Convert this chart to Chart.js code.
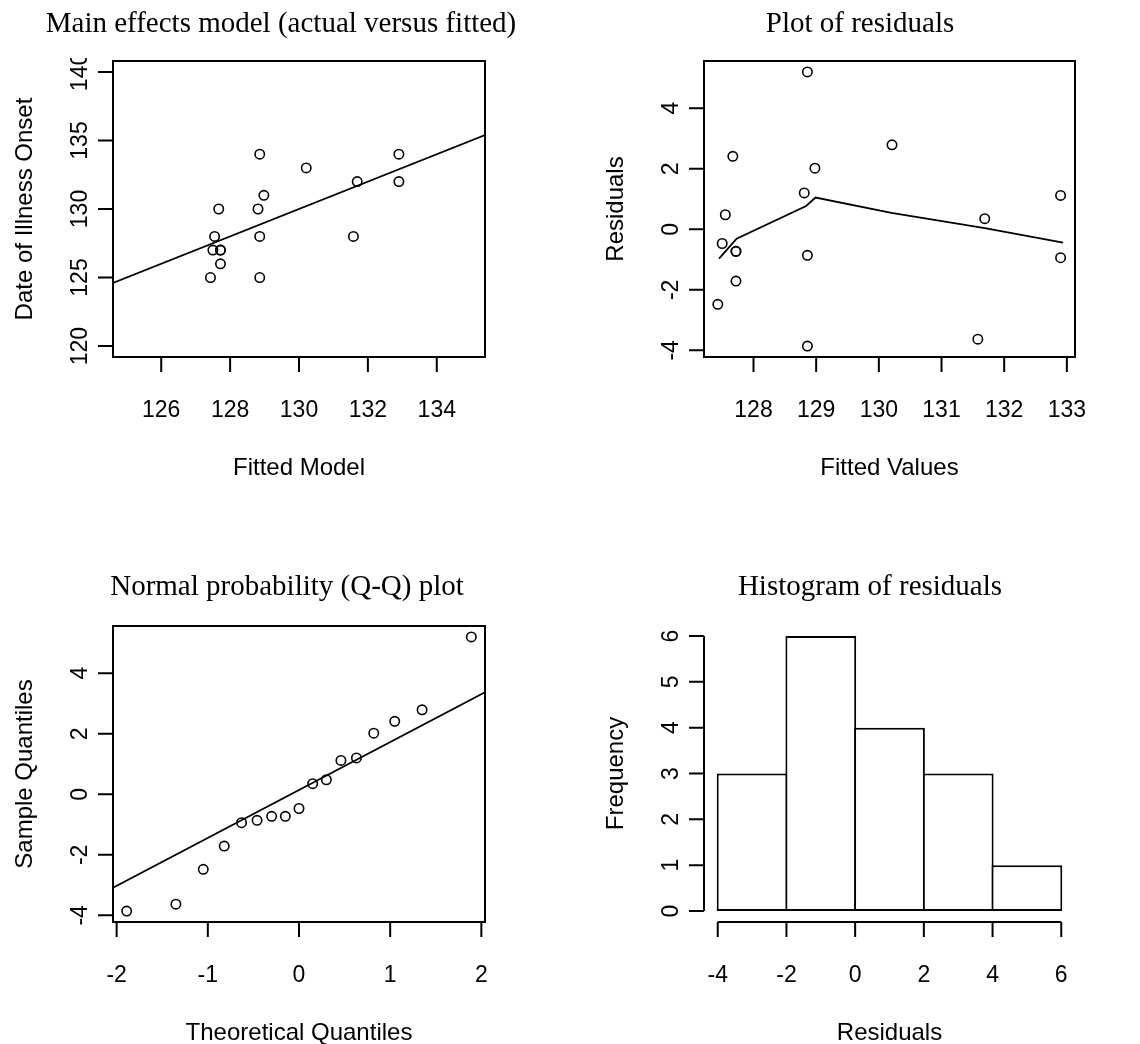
<!DOCTYPE html>
<html lang="en">
<head>
<meta charset="UTF-8">
<title>Main effects model diagnostics</title>
<script src="https://cdn.jsdelivr.net/npm/chart.js"></script>
<style>
  body { margin: 0; background: #fff; }
  #wrap { position: relative; width: 1140px; height: 1044px; }
  .panel { position: absolute; width: 570px; height: 522px; }
</style>
</head>
<body>
<div id="wrap">
  <div class="panel" style="left:0;top:0"><canvas id="fitChart" width="570" height="522"></canvas></div>
  <div class="panel" style="left:570px;top:0"><canvas id="residChart" width="570" height="522"></canvas></div>
  <div class="panel" style="left:0;top:522px"><canvas id="qqChart" width="570" height="522"></canvas></div>
  <div class="panel" style="left:570px;top:522px"><canvas id="histChart" width="570" height="522"></canvas></div>
</div>
<script>
// fitted model value, actual onset date and residual for each case
var fittedValues = [127.43, 127.55, 127.50, 127.72, 127.72, 127.67, 127.72, 128.86, 128.81, 128.86, 128.86, 128.98, 130.21, 131.69, 131.58, 132.90, 132.90];
var onsetDates = [125, 128, 127, 127, 127, 130, 126, 134, 130, 128, 125, 131, 133, 132, 128, 134, 132];
var residuals = [-2.48, 0.48, -0.47, -0.73, -0.73, 2.41, -1.71, 5.2, 1.2, -0.86, -3.86, 2.02, 2.79, 0.35, -3.63, 1.12, -0.94];

// actual = fitted reference line
var fitLineX = [124.6, 135.4];
var fitLineY = [124.6, 135.4];

// smoother through the residuals
var smoothX = [127.45, 127.73, 128.84, 128.99, 130.20, 131.69, 132.94];
var smoothY = [-0.97, -0.31, 0.77, 1.05, 0.54, 0.04, -0.44];

// normal Q-Q
var theoQuantiles = [-1.89, -1.35, -1.05, -0.82, -0.63, -0.46, -0.30, -0.15, 0, 0.15, 0.30, 0.46, 0.63, 0.82, 1.05, 1.35, 1.89];
var sampleQuantiles = [-3.86, -3.63, -2.48, -1.71, -0.94, -0.86, -0.73, -0.73, -0.47, 0.35, 0.48, 1.12, 1.2, 2.02, 2.41, 2.79, 5.2];
var qqLineX = [-2.04, 2.04];
var qqLineY = [-3.09, 3.37];

// histogram of residuals
var binMids = [-3, -1, 1, 3, 5];
var binCounts = [3, 6, 4, 3, 1];

// tick labels
var fitXTicks = [126, 128, 130, 132, 134];
var fitYTicks = [120, 125, 130, 135, 140];
var residXTicks = [128, 129, 130, 131, 132, 133];
var residYTicks = [-4, -2, 0, 2, 4];
var qqXTicks = [-2, -1, 0, 1, 2];
var qqYTicks = [-4, -2, 0, 2, 4];
var histXTicks = [-4, -2, 0, 2, 4, 6];
var histYTicks = [0, 1, 2, 3, 4, 5, 6];

function pairs(xs, ys) {
    return xs.map(function(x, i) { return { x: x, y: ys[i] }; });
}

// draws the R style frame, ticks and labels around the chart area
function rAxes(cfg) {
    return {
        id: 'rAxes',
        afterDraw: function(chart) {
            var ctx = chart.ctx, a = chart.chartArea;
            var xs = chart.scales.x, ys = chart.scales.y;
            ctx.save();
            ctx.strokeStyle = '#000';
            ctx.fillStyle = '#000';
            ctx.lineWidth = 2;
            if (cfg.box) ctx.strokeRect(a.left, a.top, a.right - a.left, a.bottom - a.top);

            ctx.beginPath();
            var xFirst = xs.getPixelForValue(cfg.xTicks[0]);
            var xLast = xs.getPixelForValue(cfg.xTicks[cfg.xTicks.length - 1]);
            ctx.moveTo(xFirst, a.bottom);
            ctx.lineTo(xLast, a.bottom);
            cfg.xTicks.forEach(function(v) {
                var px = xs.getPixelForValue(v);
                ctx.moveTo(px, a.bottom);
                ctx.lineTo(px, a.bottom + 15);
            });
            var yFirst = ys.getPixelForValue(cfg.yTicks[0]);
            var yLast = ys.getPixelForValue(cfg.yTicks[cfg.yTicks.length - 1]);
            ctx.moveTo(a.left, yFirst);
            ctx.lineTo(a.left, yLast);
            cfg.yTicks.forEach(function(v) {
                var py = ys.getPixelForValue(v);
                ctx.moveTo(a.left, py);
                ctx.lineTo(a.left - 15, py);
            });
            ctx.stroke();

            ctx.font = '23px "Liberation Sans", Arial, sans-serif';
            ctx.textAlign = 'center';
            ctx.textBaseline = 'alphabetic';
            cfg.xTicks.forEach(function(v) {
                ctx.fillText(String(v), xs.getPixelForValue(v), a.bottom + 60);
            });
            ctx.save();
            ctx.beginPath();
            ctx.rect(0, a.top - 3, chart.width, chart.height);
            ctx.clip();
            cfg.yTicks.forEach(function(v) {
                ctx.save();
                ctx.translate(a.left - 26, ys.getPixelForValue(v));
                ctx.rotate(-Math.PI / 2);
                ctx.fillText(String(v), 0, 0);
                ctx.restore();
            });
            ctx.restore();

            ctx.font = '24px "Liberation Sans", Arial, sans-serif';
            ctx.fillText(cfg.xTitle, (a.left + a.right) / 2, a.bottom + 118);
            ctx.save();
            ctx.translate(a.left - 81, (a.top + a.bottom) / 2);
            ctx.rotate(-Math.PI / 2);
            ctx.fillText(cfg.yTitle, 0, 0);
            ctx.restore();

            ctx.font = '29px "Liberation Serif", "Times New Roman", serif';
            ctx.fillText(cfg.title, cfg.titleX, cfg.titleY);
            ctx.restore();
        }
    };
}

function scaleOpts(min, max, ticks) {
    return {
        type: 'linear',
        display: false,
        offset: false,
        min: min,
        max: max,
        afterBuildTicks: function(scale) {
            scale.ticks = ticks.map(function(v) { return { value: v }; });
        }
    };
}

function baseOptions(pad, xScale, yScale) {
    return {
        responsive: false,
        animation: false,
        devicePixelRatio: 1,
        events: [],
        layout: { padding: pad },
        plugins: { legend: { display: false }, tooltip: { enabled: false } },
        scales: { x: xScale, y: yScale }
    };
}

var pointStyle = {
    pointRadius: 4.7,
    pointBorderWidth: 1.6,
    borderColor: '#000',
    backgroundColor: 'rgba(0,0,0,0)'
};

function lineSet(xs, ys) {
    return {
        type: 'line',
        data: pairs(xs, ys),
        borderColor: '#000',
        borderWidth: 1.8,
        pointRadius: 0,
        fill: false,
        tension: 0
    };
}

// Main effects model (actual versus fitted)
new Chart(document.getElementById('fitChart'), {
    type: 'scatter',
    data: {
        datasets: [
            Object.assign({ data: pairs(fittedValues, onsetDates) }, pointStyle),
            lineSet(fitLineX, fitLineY)
        ]
    },
    options: baseOptions({ left: 113, top: 61, right: 85, bottom: 165 },
        scaleOpts(124.6, 135.4, fitXTicks), scaleOpts(119.2, 140.8, fitYTicks)),
    plugins: [rAxes({
        box: true, xTicks: fitXTicks, yTicks: fitYTicks,
        xTitle: 'Fitted Model', yTitle: 'Date of Illness Onset',
        title: 'Main effects model (actual versus fitted)', titleX: 281, titleY: 32
    })]
});

// Plot of residuals
new Chart(document.getElementById('residChart'), {
    type: 'scatter',
    data: {
        datasets: [
            Object.assign({ data: pairs(fittedValues, residuals) }, pointStyle),
            lineSet(smoothX, smoothY)
        ]
    },
    options: baseOptions({ left: 134, top: 61, right: 65, bottom: 165 },
        scaleOpts(127.21, 133.13, residXTicks), scaleOpts(-4.22, 5.56, residYTicks)),
    plugins: [rAxes({
        box: true, xTicks: residXTicks, yTicks: residYTicks,
        xTitle: 'Fitted Values', yTitle: 'Residuals',
        title: 'Plot of residuals', titleX: 290, titleY: 32
    })]
});

// Normal probability (Q-Q) plot
new Chart(document.getElementById('qqChart'), {
    type: 'scatter',
    data: {
        datasets: [
            Object.assign({ data: pairs(theoQuantiles, sampleQuantiles) }, pointStyle),
            lineSet(qqLineX, qqLineY)
        ]
    },
    options: baseOptions({ left: 113, top: 104, right: 85, bottom: 122 },
        scaleOpts(-2.04, 2.04, qqXTicks), scaleOpts(-4.22, 5.56, qqYTicks)),
    plugins: [rAxes({
        box: true, xTicks: qqXTicks, yTicks: qqYTicks,
        xTitle: 'Theoretical Quantiles', yTitle: 'Sample Quantiles',
        title: 'Normal probability (Q-Q) plot', titleX: 287, titleY: 73
    })]
});

// Histogram of residuals
new Chart(document.getElementById('histChart'), {
    type: 'bar',
    data: {
        datasets: [{
            data: pairs(binMids, binCounts),
            backgroundColor: '#fff',
            borderColor: '#000',
            borderWidth: 2,
            borderSkipped: false,
            barPercentage: 1.03,
            categoryPercentage: 1
        }]
    },
    options: baseOptions({ left: 134, top: 103, right: 65, bottom: 122 },
        scaleOpts(-4.4, 6.4, histXTicks), scaleOpts(-0.24, 6.24, histYTicks)),
    plugins: [rAxes({
        box: false, xTicks: histXTicks, yTicks: histYTicks,
        xTitle: 'Residuals', yTitle: 'Frequency',
        title: 'Histogram of residuals', titleX: 300, titleY: 73
    })]
});
</script>
</body>
</html>
